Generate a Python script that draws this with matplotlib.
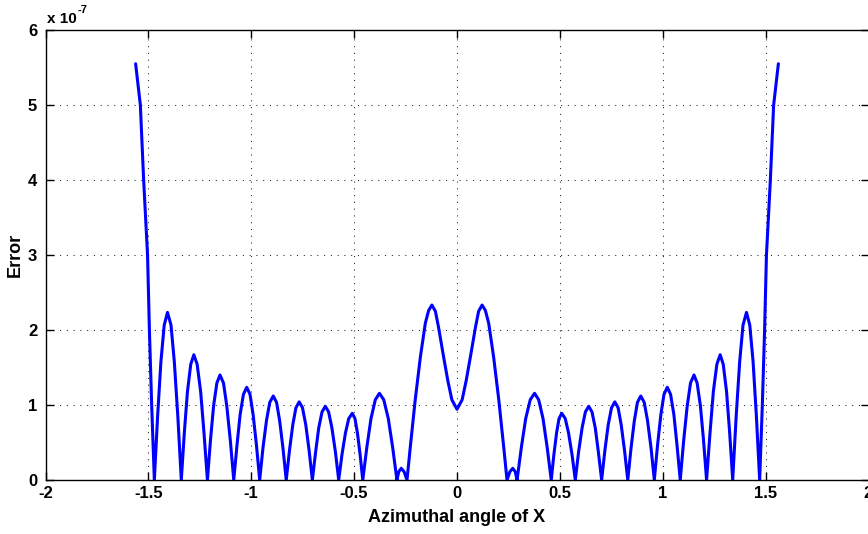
import matplotlib
matplotlib.use('Agg')
import matplotlib.pyplot as plt

# Azimuthal angle (x) and error in units of 1e-7 (y)
angle = [
    -1.562, -1.539, -1.523, -1.504, -1.495, -1.484, -1.471,
    -1.455, -1.439, -1.423, -1.407, -1.390, -1.374, -1.357, -1.340,
    -1.325, -1.310, -1.294, -1.279, -1.263, -1.246, -1.230, -1.213,
    -1.198, -1.183, -1.167, -1.152, -1.135, -1.119, -1.102, -1.085,
    -1.069, -1.054, -1.038, -1.022, -1.006, -0.991, -0.975, -0.959,
    -0.943, -0.926, -0.910, -0.893, -0.877, -0.862, -0.846, -0.830,
    -0.814, -0.798, -0.783, -0.767, -0.751, -0.735, -0.719, -0.703,
    -0.687, -0.672, -0.656, -0.640, -0.624, -0.608, -0.591, -0.575,
    -0.559, -0.542, -0.526, -0.509, -0.496, -0.484, -0.471, -0.458,
    -0.438, -0.418, -0.397, -0.377, -0.356, -0.334, -0.313, -0.292,
    -0.283, -0.271, -0.257, -0.243,
    -0.227, -0.203, -0.178, -0.154, -0.138, -0.122, -0.105, -0.090, -0.065, -0.045, -0.025,
    0.000, 0.025, 0.045, 0.065, 0.090, 0.105, 0.122, 0.138, 0.154, 0.178, 0.203, 0.227, 0.243,
    0.257, 0.271, 0.283, 0.292,
    0.313, 0.334, 0.356, 0.377, 0.397, 0.418, 0.438, 0.458,
    0.471, 0.484, 0.496, 0.509, 0.526, 0.542, 0.559, 0.575,
    0.591, 0.608, 0.624, 0.640, 0.656, 0.672, 0.687, 0.703,
    0.719, 0.735, 0.751, 0.767, 0.783, 0.798, 0.814, 0.830,
    0.846, 0.862, 0.877, 0.893, 0.910, 0.926, 0.943, 0.959,
    0.975, 0.991, 1.006, 1.022, 1.038, 1.054, 1.069, 1.085,
    1.102, 1.119, 1.135, 1.152, 1.167, 1.183, 1.198, 1.213,
    1.230, 1.246, 1.263, 1.279, 1.294, 1.310, 1.325, 1.340,
    1.357, 1.374, 1.390, 1.407, 1.423, 1.439, 1.455, 1.471,
    1.484, 1.495, 1.504, 1.523, 1.539, 1.562,
]

error_e7 = [
    5.55, 5.0, 4.0, 3.0, 2.0, 1.0, 0.0,
    0.856, 1.580, 2.065, 2.235, 2.065, 1.580, 0.856, 0.0,
    0.640, 1.181, 1.543, 1.67, 1.543, 1.181, 0.640, 0.0,
    0.536, 0.990, 1.294, 1.40, 1.294, 0.990, 0.536, 0.0,
    0.473, 0.874, 1.142, 1.236, 1.142, 0.874, 0.473, 0.0,
    0.429, 0.792, 1.035, 1.12, 1.035, 0.792, 0.429, 0.0,
    0.399, 0.737, 0.963, 1.042, 0.963, 0.737, 0.399, 0.0,
    0.376, 0.695, 0.908, 0.983, 0.908, 0.695, 0.376, 0.0,
    0.34, 0.63, 0.82, 0.889, 0.82, 0.63, 0.34, 0.0,
    0.44, 0.82, 1.07, 1.156, 1.07, 0.82, 0.44, 0.0,
    0.11, 0.156, 0.11, 0.0,
    0.44, 1.07, 1.64, 2.09, 2.26, 2.333, 2.25, 2.04, 1.64, 1.33, 1.07,
    0.943, 1.07, 1.33, 1.64, 2.04, 2.25, 2.333, 2.26, 2.09, 1.64, 1.07, 0.44, 0.0,
    0.11, 0.156, 0.11, 0.0,
    0.44, 0.82, 1.07, 1.156, 1.07, 0.82, 0.44, 0.0,
    0.34, 0.63, 0.82, 0.889, 0.82, 0.63, 0.34, 0.0,
    0.376, 0.695, 0.908, 0.983, 0.908, 0.695, 0.376, 0.0,
    0.399, 0.737, 0.963, 1.042, 0.963, 0.737, 0.399, 0.0,
    0.429, 0.792, 1.035, 1.12, 1.035, 0.792, 0.429, 0.0,
    0.473, 0.874, 1.142, 1.236, 1.142, 0.874, 0.473, 0.0,
    0.536, 0.990, 1.294, 1.40, 1.294, 0.990, 0.536, 0.0,
    0.640, 1.181, 1.543, 1.67, 1.543, 1.181, 0.640, 0.0,
    0.856, 1.580, 2.065, 2.235, 2.065, 1.580, 0.856, 0.0,
    1.0, 2.0, 3.0, 4.0, 5.0, 5.55,
]

xticks = [-2, -1.5, -1, -0.5, 0, 0.5, 1, 1.5, 2]
xticklabels = ['-2', '-1.5', '-1', '-0.5', '0', '0.5', '1', '1.5', '2']
yticks = [0, 1, 2, 3, 4, 5, 6]
yticklabels = ['0', '1', '2', '3', '4', '5', '6']

plt.rcParams['font.family'] = ['Liberation Sans', 'DejaVu Sans']

W, H = 868, 534
fig = plt.figure(figsize=(W / 100, H / 100), dpi=100)
ax = fig.add_axes([45.5 / W, 54 / H, 823 / W, 450 / H])

ax.plot(angle, error_e7, color='#0000ff', linewidth=2.2,
        solid_joinstyle='round', solid_capstyle='round')

ax.set_xlim(-2, 2)
ax.set_ylim(0, 6)
ax.set_xticks(xticks)
ax.set_xticklabels(xticklabels)
ax.set_yticks(yticks)
ax.set_yticklabels(yticklabels)

ax.grid(True, color='#202020', linestyle=(0, (1, 5.5)), linewidth=0.75)
ax.tick_params(direction='in', length=6, width=1, top=True, right=True,
               labelsize=12, colors='k')
ax.tick_params(axis='x', pad=4)
ax.tick_params(axis='y', pad=6)
for lbl in ax.get_xticklabels() + ax.get_yticklabels():
    lbl.set_fontweight('bold')
for s in ax.spines.values():
    s.set_linewidth(1)
    s.set_color('k')

ax.set_xlabel('Azimuthal angle of X', fontsize=13, fontweight='bold')
ax.xaxis.set_label_coords(0.5, -(509 - 480) / 450, transform=ax.transAxes)
ax.xaxis.label.set_va('top')
ax.set_ylabel('Error', fontsize=13, fontweight='bold')
ax.yaxis.set_label_coords(-(45.5 - 24) / 823, 0.5)

fig.text(47 / W, 1 - 23 / H, 'x 10', fontsize=11, fontweight='bold', va='baseline', ha='left')
fig.text(77.5 / W, 1 - 13 / H, '-7', fontsize=8, fontweight='bold', va='baseline', ha='left')

fig.savefig('out.png', dpi=100)
